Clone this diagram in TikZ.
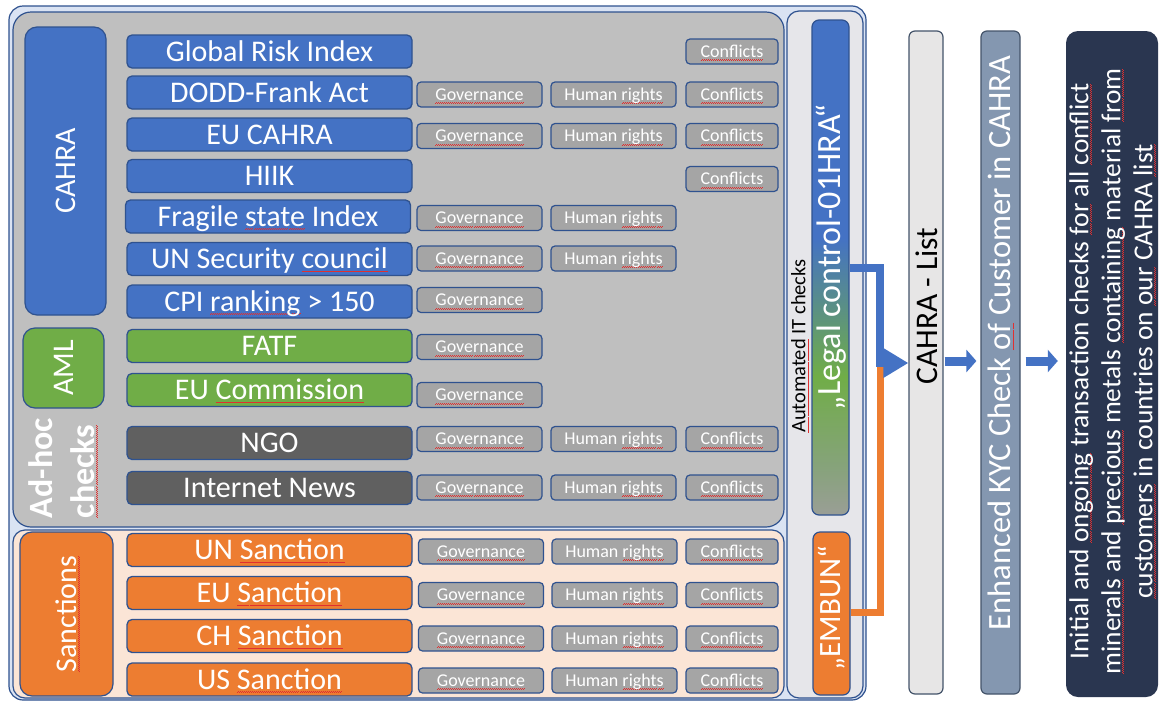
\documentclass[tikz,border=0pt]{standalone}
\usepackage{fontspec}
\setmainfont{Carlito}
\usetikzlibrary{arrows.meta}
\definecolor{cblue}{HTML}{4472C4}
\definecolor{cgreen}{HTML}{70AD47}
\definecolor{corange}{HTML}{ED7D31}
\definecolor{cdgray}{HTML}{606060}
\definecolor{bord}{HTML}{2F528F}
\definecolor{panelgray}{HTML}{BFBFBF}
\definecolor{chkgray}{HTML}{A5A5A5}
\definecolor{peach}{HTML}{FBE5D6}
\definecolor{outerc}{HTML}{DAE3F3}
\definecolor{colgray}{HTML}{E6E6EA}
\definecolor{listgray}{HTML}{E7E6E6}
\definecolor{kycblue}{HTML}{8497B0}
\definecolor{listbord}{HTML}{44546A}
\definecolor{navy}{HTML}{2A3650}
\definecolor{sqred}{HTML}{E03030}
\definecolor{lgray}{HTML}{9A9E96}
\definecolor{lgreen}{HTML}{86A37A}
\newsavebox\sqbox
\newcommand\sq[1]{\leavevmode\sbox\sqbox{#1}\rlap{\hbox to \wd\sqbox{\color{sqred}\xleaders\hbox{\rule[-3.4pt]{1pt}{0.6pt}\rule[-2.7pt]{1pt}{0.6pt}}\hfil}}\usebox\sqbox}
\pgfdeclareverticalshading{legalshade}{100bp}{color(0bp)=(lgray); color(25bp)=(lgray); color(30bp)=(lgreen); color(39bp)=(cgreen); color(53bp)=(cblue); color(100bp)=(cblue)}
\tikzset{
  mainbox/.style={draw=bord, line width=1.3pt, rounded corners=5pt, minimum width=285pt, minimum height=33pt, inner sep=0pt, text=white, font=\fontsize{30}{36}\selectfont, text height=19.3pt, text depth=0pt},
  cbl/.style={mainbox, fill=cblue},
  cgr/.style={mainbox, fill=cgreen},
  cdg/.style={mainbox, fill=cdgray},
  cor/.style={mainbox, fill=corange},
  chk/.style={draw=bord, line width=1.2pt, fill=chkgray, rounded corners=4pt, minimum height=25pt, inner sep=0pt, text=white, font=\fontsize{18}{22}\selectfont, text height=11.6pt, text depth=0pt},
  gov/.style={chk, minimum width=125pt},
  hum/.style={chk, minimum width=125pt},
  con/.style={chk, minimum width=92pt},
  panel/.style={draw=bord, line width=1.2pt, inner sep=0pt},
  rtext/.style={rotate=90, inner sep=0pt},
  oline/.style={draw=corange, line width=7pt, line join=miter},
  bline/.style={draw=cblue, line width=7.5pt, line join=miter},
  barrow/.style={draw=cblue, line width=9pt, -{Triangle[length=10pt,width=22pt]}},
}
\begin{document}
\begin{tikzpicture}[x=1pt,y=-1pt]
\path[fill=white, use as bounding box] (0,0) rectangle (1160,702);

% containers
\node[panel, fill=outerc, rounded corners=14pt, minimum width=857pt, minimum height=694pt] (outer) at (437.5,353) {};
\node[panel, fill=panelgray, rounded corners=18pt, minimum width=771pt, minimum height=515pt] (graypanel) at (398.5,269.5) {};
\node[panel, fill=peach, rounded corners=12pt, minimum width=771pt, minimum height=168pt] (sancpanel) at (398.5,614) {};
\node[panel, fill=colgray, rounded corners=12pt, minimum width=76pt, minimum height=687pt] (autocol) at (825,354.5) {};

% group labels
\node[panel, fill=cblue, rounded corners=12pt, minimum width=81pt, minimum height=288pt] (cahralab) at (65.5,171) {};
\node[rtext, text=white, font=\fontsize{30}{36}\selectfont] (cahratxt) at (cahralab.center) {CAHRA};
\node[panel, fill=cgreen, rounded corners=12pt, minimum width=81pt, minimum height=80pt] (amllab) at (63.5,368) {};
\node[rtext, text=white, font=\fontsize{30}{36}\selectfont] (amltxt) at (amllab.center) {AML};
\node[rtext, text=white, align=left, font=\bfseries\fontsize{34}{42}\selectfont] (adhoc) at (63,468) {Ad-hoc\\\sq{checks}};
\node[panel, fill=corange, rounded corners=12pt, minimum width=93pt, minimum height=164pt] (sanclab) at (66.5,614) {};
\node[rtext, text=white, font=\fontsize{30}{36}\selectfont] (sanctxt) at (67.5,614) {\sq{Sanctions}};

% rows
\node[cbl] (r1) at (269.5,51.5) {Global Risk Index};
\node[con] (r1c) at (732,51.5) {\sq{Conflicts}};

\node[cbl] (r2) at (269.5,92.5) {DODD-Frank Act};
\node[gov] (r2g) at (479.5,94.5) {\sq{Governance}};
\node[hum] (r2h) at (613.5,94.5) {Human \sq{rights}};
\node[con] (r2c) at (732,94.5) {\sq{Conflicts}};

\node[cbl] (r3) at (269.5,134.5) {EU CAHRA};
\node[gov] (r3g) at (479.5,136) {\sq{Governance}};
\node[hum] (r3h) at (613.5,136) {Human \sq{rights}};
\node[con] (r3c) at (732,136) {\sq{Conflicts}};

\node[cbl] (r4) at (269.5,176) {HIIK};
\node[con] (r4c) at (732,179) {\sq{Conflicts}};

\node[cbl] (r5) at (268,216.5) {Fragile \sq{state} Index};
\node[gov] (r5g) at (479.5,218) {\sq{Governance}};
\node[hum] (r5h) at (613.5,218) {Human \sq{rights}};

\node[cbl] (r6) at (269.5,259) {UN Security \sq{council}};
\node[gov] (r6g) at (479.5,258.5) {\sq{Governance}};
\node[hum] (r6h) at (613.5,258.5) {Human \sq{rights}};

\node[cbl] (r7) at (269.5,301.5) {CPI \sq{ranking} > 150};
\node[gov] (r7g) at (479.5,300) {\sq{Governance}};

\node[cgr] (r8) at (269.5,346) {FATF};
\node[gov] (r8g) at (479.5,347) {\sq{Governance}};

\node[cgr] (r9) at (269.5,390) {EU \sq{Commission}};
\node[gov] (r9g) at (479.5,395) {\sq{Governance}};

\node[cdg] (r10) at (269.5,443) {NGO};
\node[gov] (r10g) at (479.5,439) {\sq{Governance}};
\node[hum] (r10h) at (613.5,439) {Human \sq{rights}};
\node[con] (r10c) at (732,439) {\sq{Conflicts}};

\node[cdg] (r11) at (269.5,488) {Internet News};
\node[gov] (r11g) at (479.5,487.5) {\sq{Governance}};
\node[hum] (r11h) at (613.5,487.5) {Human \sq{rights}};
\node[con] (r11c) at (732,487.5) {\sq{Conflicts}};

\node[cor] (r12) at (269.5,550) {UN \sq{Sanction}};
\node[gov] (r12g) at (481,551.5) {\sq{Governance}};
\node[hum] (r12h) at (614.5,551.5) {Human \sq{rights}};
\node[con] (r12c) at (732,551.5) {\sq{Conflicts}};

\node[cor] (r13) at (269.5,593) {EU \sq{Sanction}};
\node[gov] (r13g) at (481,595) {\sq{Governance}};
\node[hum] (r13h) at (614.5,595) {Human \sq{rights}};
\node[con] (r13c) at (732,595) {\sq{Conflicts}};

\node[cor] (r14) at (269.5,636) {CH \sq{Sanction}};
\node[gov] (r14g) at (481,638.5) {\sq{Governance}};
\node[hum] (r14h) at (614.5,638.5) {Human \sq{rights}};
\node[con] (r14c) at (732,638.5) {\sq{Conflicts}};

\node[cor] (r15) at (269.5,679.5) {US \sq{Sanction}};
\node[gov] (r15g) at (481,680.5) {\sq{Governance}};
\node[hum] (r15h) at (614.5,680.5) {Human \sq{rights}};
\node[con] (r15c) at (732,680.5) {\sq{Conflicts}};

% automated IT column
\node[rtext, font=\fontsize{20.5}{24}\selectfont] (autotxt) at (800,346) {\sq{Automated} IT checks};
\node[draw=bord, line width=1.2pt, shading=legalshade, rounded corners=7pt, minimum width=37pt, minimum height=495pt, inner sep=0pt] (legal) at (830.5,267.5) {};
\node[rtext, text=white, font=\fontsize{34}{40}\selectfont] (legaltxt) at (831,257) {„Legal control-01HRA“};
\node[draw=bord, line width=1.2pt, fill=corange, rounded corners=7pt, minimum width=37pt, minimum height=163pt, inner sep=0pt] (embun) at (831.5,613.5) {};
\node[rtext, text=white, font=\fontsize{31}{36}\selectfont] (embuntxt) at (832,608) {„EMBUN“};

% right-hand boxes
\node[draw=listbord, line width=1.2pt, fill=listgray, rounded corners=6pt, minimum width=34pt, minimum height=663pt, inner sep=0pt] (list) at (926,362.5) {};
\node[rtext, font=\fontsize{31.5}{36}\selectfont] (listtxt) at (927,306) {CAHRA - List};
\node[draw=listbord, line width=1.2pt, fill=kycblue, rounded corners=6pt, minimum width=39pt, minimum height=663pt, inner sep=0pt] (kyc) at (1000.5,362.5) {};
\node[rtext, text=white, font=\fontsize{32.5}{38}\selectfont] (kyctxt) at (1001,343) {Enhanced KYC Check \sq{of} Customer in CAHRA};
\node[fill=navy, rounded corners=12pt, minimum width=92pt, minimum height=666pt, inner sep=0pt] (dark) at (1112,364) {};
\node[rtext, text=white, align=center, font=\fontsize{27.4}{32}\selectfont] (darktxt) at (1112.5,371.5) {Initial and \sq{ongoing} transaction checks \sq{for} all \sq{conflict}\\\sq{minerals} and \sq{precious} metals \sq{containing} material \sq{from}\\\sq{customers} in countries on \sq{our} CAHRA \sq{list}};

% connectors
\coordinate (jo) at (880,612);
\coordinate (jom) at (880,366);
\coordinate (jb) at (880,268);
\coordinate (jbm) at (880,363);
\draw[oline] (embun.east |- jo) -- (jo) -- (jom);
\draw[bline, -{Triangle[length=25pt,width=28pt]}] (legal.east |- jb) -- (jb) -- (jbm) -- (list.west |- jbm);
\draw[barrow, shorten <=1pt, shorten >=4pt] (list.east |- 0,361) -- (kyc.west |- 0,361);
\draw[barrow, shorten <=5pt, shorten >=8pt] (kyc.east |- 0,361) -- (dark.west |- 0,361);
\end{tikzpicture}
\end{document}
